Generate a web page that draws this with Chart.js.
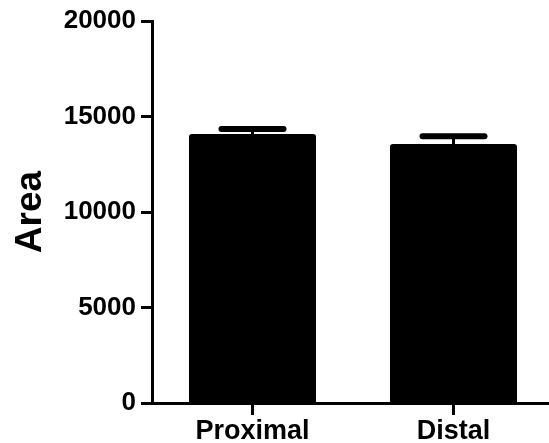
<!DOCTYPE html>
<html>
<head>
<meta charset="utf-8">
<script src="https://cdn.jsdelivr.net/npm/chart.js@4/dist/chart.umd.min.js"></script>
<style>
html,body{margin:0;padding:0;background:#fff;overflow:hidden;}
#wrap{width:549px;height:443px;position:relative;overflow:hidden;}
</style>
</head>
<body>
<div id="wrap"><canvas id="c" width="554" height="443"></canvas></div>
<script>
const categories = ["Proximal", "Distal"];
const meanValues = [14080, 13560];
const errorValues = [270, 400];
const yTicks = [0, 5000, 10000, 15000, 20000];
const yTitle = "Area";

const FONT = "'Liberation Sans', Arial, Helvetica, sans-serif";

const errorBarPlugin = {
  id: 'errorBars',
  afterDatasetsDraw(chart) {
    const ctx = chart.ctx;
    const meta = chart.getDatasetMeta(0);
    const ys = chart.scales.y;
    ctx.save();
    ctx.strokeStyle = '#000';
    meta.data.forEach((bar, i) => {
      const x = bar.x;
      const yBar = ys.getPixelForValue(meanValues[i]);
      const yTop = ys.getPixelForValue(meanValues[i] + errorValues[i]);
      ctx.lineWidth = 3;
      ctx.lineCap = 'butt';
      ctx.beginPath();
      ctx.moveTo(x, yBar);
      ctx.lineTo(x, yTop);
      ctx.stroke();
      ctx.lineWidth = 6;
      ctx.lineCap = 'round';
      ctx.beginPath();
      ctx.moveTo(x - 31, yTop);
      ctx.lineTo(x + 31, yTop);
      ctx.stroke();
    });
    ctx.restore();
  }
};

new Chart(document.getElementById('c'), {
  type: 'bar',
  data: {
    labels: categories,
    datasets: [{
      data: meanValues,
      backgroundColor: '#000',
      borderColor: '#000',
      borderWidth: 0,
      borderRadius: 3,
      borderSkipped: 'bottom',
      barPercentage: 0.632,
      categoryPercentage: 1.0
    }]
  },
  options: {
    responsive: false,
    animation: false,
    events: [],
    layout: { padding: { top: 21, right: 0, bottom: 0, left: 0 } },
    plugins: { legend: { display: false }, tooltip: { enabled: false } },
    scales: {
      x: {
        offset: true,
        grid: { offset: false, drawOnChartArea: false, drawTicks: true, tickLength: 12, tickWidth: 3, tickColor: '#000' },
        border: { display: true, width: 3, color: '#000' },
        ticks: { color: '#000', font: { family: FONT, size: 27, weight: 'bold' }, padding: 0, maxRotation: 0 },
        afterFit(scale) { scale.height = 40; }
      },
      y: {
        min: 0,
        max: 20000,
        afterBuildTicks(scale) { scale.ticks = yTicks.map(v => ({ value: v })); },
        grid: { drawOnChartArea: false, drawTicks: true, tickLength: 11, tickWidth: 3, tickColor: '#000' },
        border: { display: true, width: 3, color: '#000' },
        ticks: { color: '#000', font: { family: FONT, size: 26, weight: 'bold' }, padding: 5, callback: (v) => String(v) },
        title: { display: true, text: yTitle, color: '#000', font: { family: FONT, size: 37, weight: 'bold' }, padding: { top: 9, bottom: 0 } },
        afterFit(scale) { scale.width = 152; }
      }
    }
  },
  plugins: [errorBarPlugin]
});
</script>
</body>
</html>
